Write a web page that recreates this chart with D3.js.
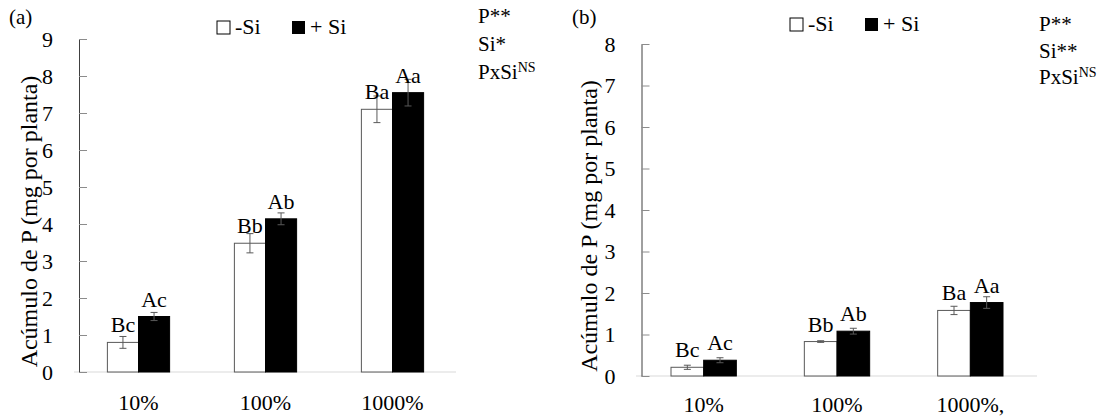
<!DOCTYPE html>
<html>
<head>
    <title></title>
    <style>
        body { margin: 0; background: #fff; }
        text { font-family: "Liberation Serif", "Times New Roman", Tinos, "DejaVu Serif", serif; fill: #000; }
    </style>
</head>
<body>
<div id="container"></div>

<script src="https://d3js.org/d3.v7.min.js" type="text/javascript"></script>
<script type="text/javascript">
    // data
    const categoriesA = ['10%', '100%', '1000%'];
    const categoriesB = ['10%', '100%', '1000%,'];
    const seriesNames = ['-Si', '+ Si'];

    const noSiA = [0.8, 3.48, 7.1];
    const siA = [1.5, 4.14, 7.55];
    const noSiErrA = [0.16, 0.26, 0.36];
    const siErrA = [0.11, 0.16, 0.36];
    const noSiLetA = ['Bc', 'Bb', 'Ba'];
    const siLetA = ['Ac', 'Ab', 'Aa'];
    const statsA = [['P**', ''], ['Si*', ''], ['PxSi', 'NS']];
    const ticksA = [0, 1, 2, 3, 4, 5, 6, 7, 8, 9];

    const noSiB = [0.21, 0.83, 1.58];
    const siB = [0.38, 1.08, 1.77];
    const noSiErrB = [0.05, 0.02, 0.1];
    const siErrB = [0.06, 0.07, 0.14];
    const noSiLetB = ['Bc', 'Bb', 'Ba'];
    const siLetB = ['Ac', 'Ab', 'Aa'];
    const statsB = [['P**', ''], ['Si**', ''], ['PxSi', 'NS']];
    const ticksB = [0, 1, 2, 3, 4, 5, 6, 7, 8];

    const yTitle = 'Acúmulo de P (mg por planta)';

    let w = 1112;
    let h = 419;
    const svg = d3.select('#container')
        .append('svg')
        .attr('width', w)
        .attr('height', h);

    function drawPanel(p) {
        const g = svg.append('g');

        let x = d3.scaleBand().domain(p.cats).range([p.left, p.right]);
        let y = d3.scaleLinear().domain([0, p.ymax]).range([p.bottom, p.top]);
        let bw = x.bandwidth() * 0.245;

        // x axis line
        g.append('line')
            .attr('x1', p.left - 1).attr('x2', p.right)
            .attr('y1', y(0)).attr('y2', y(0))
            .style('stroke', '#d9d9d9').style('stroke-width', 1);

        // y axis
        let axis = d3.axisLeft(y).tickValues(p.ticks).tickSize(-8).tickSizeOuter(0).tickPadding(26);
        let ax = g.append('g')
            .attr('transform', `translate(${p.axisX}, 0)`)
            .call(axis);
        ax.attr('font-family', null);
        ax.select('.domain').style('stroke', '#404040');
        ax.selectAll('.tick line').style('stroke', '#8c8c8c');
        ax.selectAll('.tick text')
            .style('font-size', '22px')
            .style('fill', '#000');

        // x labels
        g.selectAll('.xl').data(p.cats).enter().append('text')
            .attr('x', d => x(d) + x.bandwidth() / 2)
            .attr('y', p.labelY)
            .attr('text-anchor', 'middle')
            .style('font-size', '22px')
            .text(d => d);

        const series = [
            { vals: p.noSi, err: p.noSiErr, lets: p.noSiLet, off: -bw, fill: '#fff' },
            { vals: p.si, err: p.siErr, lets: p.siLet, off: 0, fill: '#000' }
        ];

        series.forEach(s => {
            p.cats.map((c, i) => {
                let cx = x(c) + x.bandwidth() / 2 + s.off;
                let v = s.vals[i];
                g.append('rect')
                    .attr('x', cx)
                    .attr('y', y(v))
                    .attr('width', bw)
                    .attr('height', y(0) - y(v))
                    .style('fill', s.fill)
                    .style('stroke', s.fill === '#fff' ? '#595959' : '#000')
                    .style('stroke-width', 1);

                let mx = cx + bw / 2;
                let e = s.err[i];
                let eb = g.append('g').style('stroke', '#595959').style('stroke-width', 1);
                eb.append('line').attr('x1', mx).attr('x2', mx).attr('y1', y(v - e)).attr('y2', y(v + e));
                eb.append('line').attr('x1', mx - 3.5).attr('x2', mx + 3.5).attr('y1', y(v - e)).attr('y2', y(v - e));
                eb.append('line').attr('x1', mx - 3.5).attr('x2', mx + 3.5).attr('y1', y(v + e)).attr('y2', y(v + e));

                g.append('text')
                    .attr('x', mx)
                    .attr('y', y(v) - 10)
                    .attr('text-anchor', 'middle')
                    .style('font-size', '22px')
                    .text(s.lets[i]);
            });
        });

        // y title
        g.append('text')
            .attr('transform', `translate(${p.titleX}, ${(p.top + p.bottom) / 2 + 16}) rotate(-90)`)
            .attr('text-anchor', 'middle')
            .style('font-size', '24px')
            .text(yTitle);

        // panel tag
        g.append('text')
            .attr('x', p.tagX).attr('y', 24)
            .style('font-size', '21px')
            .text(p.tag);

        // legend
        g.append('rect')
            .attr('x', p.legX).attr('y', p.legY - 6)
            .attr('width', 13).attr('height', 13)
            .style('fill', '#fff').style('stroke', '#000').style('stroke-width', 1);
        g.append('text')
            .attr('x', p.legX + 18).attr('y', p.legY + 7)
            .style('font-size', '22px')
            .text(seriesNames[0]);
        g.append('rect')
            .attr('x', p.legX + 75).attr('y', p.legY - 6)
            .attr('width', 13).attr('height', 13)
            .style('fill', '#000');
        g.append('text')
            .attr('x', p.legX + 93).attr('y', p.legY + 7)
            .style('font-size', '22px')
            .text(seriesNames[1]);

        // significance notes
        p.stats.map((s, i) => {
            let t = g.append('text')
                .attr('x', p.statX)
                .attr('y', p.statY + i * p.statGap)
                .style('font-size', '21px');
            t.append('tspan').text(s[0]);
            if (s[1]) {
                t.append('tspan')
                    .attr('dy', -7)
                    .style('font-size', '14px')
                    .text(s[1]);
            }
        });
    }

    drawPanel({
        cats: categoriesA, ymax: 9, ticks: ticksA,
        left: 75, right: 456, top: 39, bottom: 372, axisX: 79,
        noSi: noSiA, si: siA, noSiErr: noSiErrA, siErr: siErrA, noSiLet: noSiLetA, siLet: siLetA,
        labelY: 410, titleX: 37, tag: '(a)', tagX: 9,
        legX: 217, legY: 27, stats: statsA, statX: 478, statY: 23, statGap: 28
    });

    drawPanel({
        cats: categoriesB, ymax: 8, ticks: ticksB,
        left: 637, right: 1037, top: 44, bottom: 376, axisX: 641.5,
        noSi: noSiB, si: siB, noSiErr: noSiErrB, siErr: siErrB, noSiLet: noSiLetB, siLet: siLetB,
        labelY: 412, titleX: 597, tag: '(b)', tagX: 572,
        legX: 790, legY: 24, stats: statsB, statX: 1039, statY: 31, statGap: 26.5
    });
</script>

</body>
</html>
